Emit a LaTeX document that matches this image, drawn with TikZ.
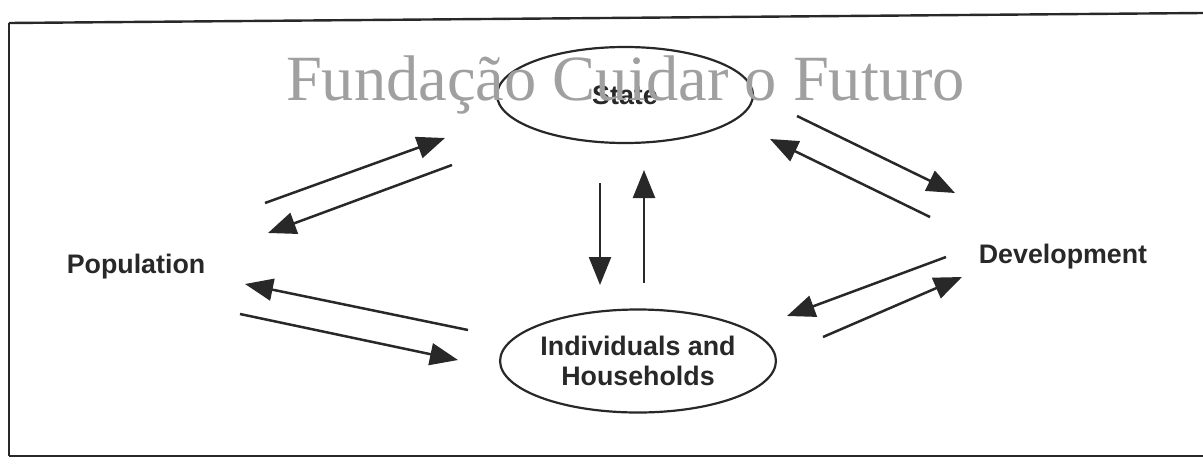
\documentclass[tikz,border=0pt]{standalone}
\usepackage{fontspec}
\setmainfont{Liberation Serif}
\newfontfamily\labfont{Liberation Sans}
\usetikzlibrary{arrows.meta,shapes.geometric}
\definecolor{ink}{RGB}{40,40,40}
\definecolor{wmgray}{RGB}{160,160,160}
\tikzset{
  arr/.style={line width=1.25pt, draw=ink, -{Triangle[length=14pt,width=11pt]}},
  frameline/.style={line width=1.2pt, draw=ink},
  oval/.style={ellipse, draw=ink, line width=1.1pt, inner sep=0pt, align=center,
     font=\labfont\bfseries\fontsize{13.4}{15}\selectfont, text=ink},
  lab/.style={font=\labfont\bfseries\fontsize{13.4}{15}\selectfont, text=ink, anchor=base},
  wm/.style={font=\fontsize{32.25}{36}\selectfont, text=wmgray, anchor=base}
}
\begin{document}
\begin{tikzpicture}[x=0.5pt,y=-0.5pt]
\useasboundingbox (0,0) rectangle (1203,466);
% frame
\coordinate (fTL) at (9,23);
\coordinate (fTR) at (1203,13);
\coordinate (fBL) at (9,456);
\coordinate (fBR) at (1203,456);
\draw[frameline] (fTR) -- (fTL);
\draw[frameline, line width=0.8pt] (fTL) -- (fBL);
\draw[frameline] (fBL) -- (fBR);
% nodes
\node[oval, minimum width=128pt, minimum height=48pt] (state) at (625,95) {State};
\node[oval, minimum width=135pt, minimum height=51.5pt] (indiv) at (638,361) {Individuals and\\Households};
\node[lab] (pop) at (136,273) {Population};
\node[lab] (dev) at (1063,263) {Development};
% arrow end points
\coordinate (a1) at (265,203); \coordinate (a2) at (445,138);
\coordinate (b1) at (452,165); \coordinate (b2) at (268,233);
\coordinate (c1) at (797,116); \coordinate (c2) at (955,193);
\coordinate (d1) at (930,217); \coordinate (d2) at (770,139);
\coordinate (e1) at (468,330); \coordinate (e2) at (245,284);
\coordinate (f1) at (240,314); \coordinate (f2) at (458,360);
\coordinate (g1) at (946,257); \coordinate (g2) at (787,316);
\coordinate (h1) at (823,337); \coordinate (h2) at (962,277);
\coordinate (v1) at (600,183); \coordinate (v2) at (600,285);
\coordinate (u1) at (644,283); \coordinate (u2) at (644,170);
% arrows
\draw[arr] (a1) -- (a2);
\draw[arr] (b1) -- (b2);
\draw[arr] (c1) -- (c2);
\draw[arr] (d1) -- (d2);
\draw[arr] (e1) -- (e2);
\draw[arr] (f1) -- (f2);
\draw[arr] (g1) -- (g2);
\draw[arr] (h1) -- (h2);
\draw[arr] (v1) -- (v2);
\draw[arr] (u1) -- (u2);
% watermark
\node[wm] (mark) at (625.5,100) {Fundação Cuidar o Futuro};
\end{tikzpicture}
\end{document}
